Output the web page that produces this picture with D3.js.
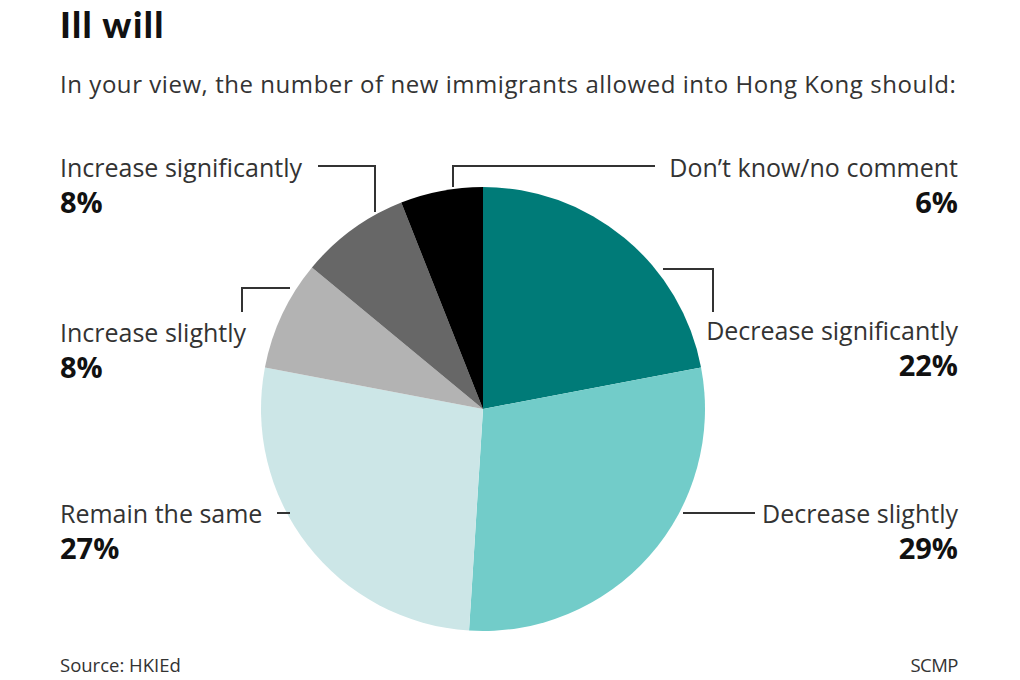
<!DOCTYPE html>
<html><head><meta charset="utf-8">
<script src="https://cdn.jsdelivr.net/npm/d3@7/dist/d3.min.js"></script>
<style>
html,body{margin:0;padding:0;background:#fff;}
text{font-family:"Open Sans","Noto Sans",sans-serif;}
</style></head>
<body>
<svg id="c" width="1020" height="680"></svg>
<script>
// ---- data ----
const categories = ["Decrease significantly","Decrease slightly","Remain the same","Increase slightly","Increase significantly","Don\u2019t know/no comment"];
const values = [22, 29, 27, 8, 8, 6];
const colors = ["#007b78","#72ccc9","#cce6e7","#b3b3b3","#676767","#000000"];

// ---- layout (label positions / leaders) ----
const layout = [
  {x:958, y:340, anchor:"end",   leader:[[663,269],[713,269],[713,312]]},
  {x:958, y:523, anchor:"end",   leader:[[683,513],[755,513]]},
  {x:60,  y:523, anchor:"start", leader:[[277,513],[290,513]]},
  {x:60,  y:342, anchor:"start", leader:[[290,288],[242,288],[242,312]]},
  {x:60,  y:177, anchor:"start", leader:[[318,166],[375,166],[375,212]]},
  {x:958, y:177, anchor:"end",   leader:[[453,187],[453,166],[655,166]]}
];

const svg = d3.select("#c");
const cx = 483, cy = 409, r = 222;

svg.append("text").attr("x",60).attr("y",38)
  .style("font-family","Lato, 'Open Sans', sans-serif").style("font-weight",900)
  .style("font-size","36px").style("letter-spacing","1.4px").attr("fill","#111").text("Ill will");

svg.append("text").attr("x",60).attr("y",93)
  .style("font-size","24px").style("letter-spacing","0.55px").attr("fill","#333")
  .text("In your view, the number of new immigrants allowed into Hong Kong should:");

const pie = d3.pie().sort(null).value(d=>d)(values);
const arc = d3.arc().innerRadius(0).outerRadius(r);
const g = svg.append("g").attr("transform",`translate(${cx},${cy})`);
g.selectAll("path").data(pie).join("path")
  .attr("d",arc).attr("fill",(d,i)=>colors[i]);

const line = d3.line();
svg.selectAll("path.leader").data(layout).join("path")
  .attr("class","leader").attr("d",d=>line(d.leader))
  .attr("fill","none").attr("stroke","#333").attr("stroke-width",2);

const lab = svg.selectAll("g.lab").data(categories).join("g").attr("class","lab");
lab.append("text")
  .attr("x",(d,i)=>layout[i].x).attr("y",(d,i)=>layout[i].y)
  .attr("text-anchor",(d,i)=>layout[i].anchor)
  .style("font-size","25px").attr("fill","#333").text(d=>d);
lab.append("text")
  .attr("x",(d,i)=>layout[i].x).attr("y",(d,i)=>layout[i].y+36)
  .attr("text-anchor",(d,i)=>layout[i].anchor)
  .style("font-size","29px").style("font-weight",700).attr("fill","#111")
  .text((d,i)=>values[i]+"%");

svg.append("text").attr("x",60).attr("y",672)
  .style("font-size","18.5px").attr("fill","#333").text("Source: HKIEd");
svg.append("text").attr("x",958).attr("y",672).attr("text-anchor","end")
  .style("font-size","18.5px").style("letter-spacing","-0.5px").attr("fill","#333").text("SCMP");
</script>
</body></html>
